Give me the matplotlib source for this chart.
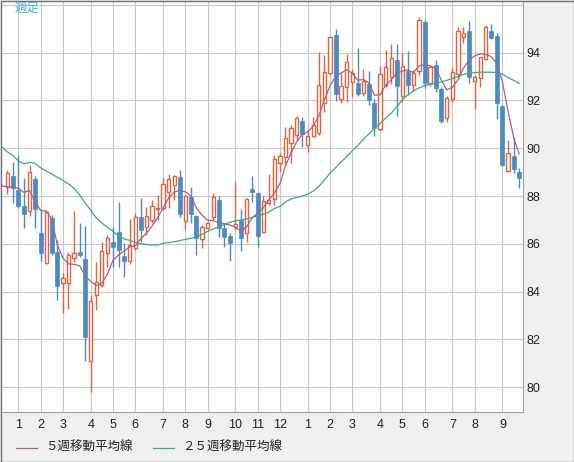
import numpy as np
import matplotlib
matplotlib.use("Agg")
from matplotlib import pyplot as plt
from matplotlib.lines import Line2D
from matplotlib.patches import Rectangle

# 週足ローソク足 (始値, 高値, 安値, 終値)
opens = [88.39, 88.84, 88.26, 87.59, 87.38, 88.70, 86.44, 85.21, 87.07, 85.67,
         84.35, 84.35, 85.40, 85.65, 85.37, 81.11, 83.86, 84.28, 85.61, 86.09,
         86.51, 85.47, 85.26, 85.82, 87.11, 86.72, 87.00, 87.46, 87.49, 88.18,
         88.46, 88.79, 86.97, 87.95, 87.17, 86.19, 86.65, 87.11, 87.84, 86.65,
         86.33, 86.69, 87.00, 86.44, 88.28, 88.14, 86.51, 87.70, 87.87, 89.37,
         89.65, 90.21, 90.56, 91.15, 90.14, 90.53, 90.63, 91.91, 93.14, 94.74,
         92.06, 92.58, 92.76, 92.74, 92.33, 92.69, 91.91, 90.80, 92.65, 93.00,
         93.69, 92.19, 93.23, 92.65, 93.25, 95.30, 92.74, 93.49, 92.48, 91.26,
         92.05, 93.11, 94.64, 94.92, 92.82, 92.93, 93.72, 94.91, 94.70, 91.77,
         89.06, 89.69, 89.00]
highs = [89.09, 89.41, 89.72, 88.74, 89.30, 88.84, 87.42, 87.42, 87.21, 86.16,
         84.77, 85.67, 87.38, 86.86, 86.75, 83.86, 85.23, 86.09, 86.37, 86.72,
         87.74, 86.02, 87.03, 87.28, 87.91, 87.56, 87.84, 88.05, 88.74, 88.91,
         88.88, 89.09, 88.05, 88.39, 87.20, 86.79, 86.96, 88.14, 88.00, 86.86,
         86.44, 88.60, 87.45, 87.91, 88.84, 88.16, 87.98, 88.91, 89.72, 89.79,
         90.90, 90.97, 91.35, 91.30, 90.77, 91.32, 94.02, 93.90, 94.70, 94.99,
         93.14, 93.93, 93.31, 94.18, 93.31, 93.23, 92.05, 93.44, 94.11, 94.35,
         94.35, 93.97, 94.08, 93.28, 95.48, 95.37, 93.49, 93.69, 92.58, 92.19,
         93.39, 95.09, 95.06, 95.33, 93.07, 93.83, 95.16, 95.20, 94.84, 91.81,
         90.35, 90.49, 89.16]
lows = [88.07, 87.72, 87.49, 86.68, 87.17, 86.68, 85.26, 85.17, 85.54, 83.65,
        83.12, 83.26, 85.23, 85.46, 81.10, 79.82, 83.23, 84.21, 85.05, 85.05,
        85.05, 84.60, 85.15, 85.74, 86.09, 86.37, 86.86, 87.00, 87.42, 87.49,
        87.84, 87.14, 86.61, 86.86, 85.54, 85.82, 86.55, 87.00, 86.30, 85.88,
        85.30, 86.58, 85.72, 86.09, 87.77, 85.88, 86.47, 87.63, 87.63, 89.02,
        89.30, 89.37, 90.35, 90.04, 89.86, 90.46, 90.56, 91.53, 93.07, 91.99,
        91.88, 91.95, 92.16, 92.19, 92.19, 91.81, 90.51, 90.74, 92.55, 92.69,
        91.35, 91.95, 92.23, 92.41, 93.07, 92.51, 92.61, 92.37, 91.05, 91.11,
        91.95, 92.93, 94.42, 92.74, 91.64, 92.58, 93.69, 94.56, 91.21, 89.25,
        89.02, 88.95, 88.33]
closes = [88.95, 88.35, 87.60, 87.24, 89.02, 87.45, 85.63, 87.32, 85.63, 84.25,
          84.59, 85.54, 85.61, 85.54, 82.08, 83.61, 84.42, 85.70, 86.23, 85.88,
          85.74, 85.30, 85.95, 87.14, 86.58, 87.17, 87.60, 87.50, 88.49, 88.70,
          88.84, 87.24, 87.98, 87.24, 86.23, 86.69, 86.86, 87.95, 86.65, 86.30,
          86.02, 86.82, 86.26, 87.87, 88.18, 86.34, 87.79, 87.84, 89.54, 89.68,
          90.42, 90.84, 91.26, 90.60, 90.51, 90.97, 92.65, 93.18, 94.64, 92.26,
          92.62, 93.62, 93.14, 92.27, 92.83, 92.02, 90.84, 93.10, 93.39, 93.77,
          92.61, 93.44, 92.65, 93.16, 95.37, 92.74, 93.41, 92.54, 91.15, 92.09,
          93.21, 94.92, 94.84, 93.00, 93.00, 93.83, 95.06, 94.63, 91.88, 89.30,
          89.79, 89.12, 88.74]

# 移動平均線 (先頭は画面左端の1本前の週)
ma5 = [88.42, 88.39, 88.35, 88.33, 88.15, 88.23, 87.75, 87.40, 87.36, 87.04,
       85.95, 85.41, 85.16, 85.14, 85.08, 84.66, 84.42, 84.26, 84.34, 84.74,
       85.31, 85.54, 85.70, 85.87, 85.91, 86.21, 86.44, 86.73, 87.08, 87.50,
       87.92, 88.16, 88.23, 88.18, 88.00, 87.50, 87.20, 86.99, 86.97, 86.89,
       86.83, 86.79, 86.69, 86.51, 86.71, 87.08, 87.29, 87.50, 87.84, 88.13,
       88.51, 89.26, 89.80, 90.26, 90.56, 90.69, 90.93, 91.35, 92.02, 92.61,
       93.00, 93.15, 93.28, 93.14, 92.84, 92.88, 92.73, 92.22, 92.23, 92.63,
       92.86, 93.14, 93.23, 93.28, 93.16, 93.44, 93.49, 93.45, 93.34, 92.86,
       92.44, 92.55, 92.86, 93.36, 93.69, 93.86, 93.95, 93.93, 93.83, 93.55,
       92.77, 91.56, 90.47, 89.76]
ma25 = [90.05, 89.85, 89.70, 89.47, 89.34, 89.41, 89.36, 89.18, 89.05, 88.92,
        88.78, 88.65, 88.51, 88.32, 88.05, 87.71, 87.40, 87.08, 86.87, 86.69,
        86.52, 86.33, 86.21, 86.14, 86.06, 86.00, 85.97, 85.95, 85.95, 86.02,
        86.05, 86.09, 86.13, 86.19, 86.23, 86.29, 86.39, 86.52, 86.62, 86.71,
        86.81, 86.90, 86.96, 87.00, 87.04, 87.10, 87.17, 87.23, 87.33, 87.48,
        87.56, 87.75, 87.88, 87.94, 88.00, 88.07, 88.21, 88.40, 88.67, 88.95,
        89.18, 89.43, 89.64, 89.89, 90.12, 90.37, 90.60, 90.83, 91.04, 91.25,
        91.46, 91.73, 92.02, 92.23, 92.40, 92.52, 92.62, 92.67, 92.72, 92.77,
        92.84, 92.92, 93.00, 93.09, 93.14, 93.16, 93.18, 93.18, 93.18, 93.16,
        93.10, 92.96, 92.84, 92.71]

# 月の最初の週の位置と月
month_idx = [2, 6, 10, 15, 19, 23, 28, 32, 36, 41, 45, 49,
             54, 58, 62, 67, 71, 75, 80, 84, 89]
month_lbl = ['1', '2', '3', '4', '5', '6', '7', '8', '9', '10', '11', '12',
             '1', '2', '3', '4', '5', '6', '7', '8', '9']

up_col = '#e0643e'
down_col = '#4a8bc3'
ma5_col = '#b45c88'
ma25_col = '#2bb57b'
grid_col = '#c8c8c8'

W, H = 574, 462
fig = plt.figure(figsize=(W / 100, H / 100), dpi=100, facecolor='#f0f0f0')
ax = fig.add_axes([1 / W, (H - 412.3) / H, 522.3 / W, 411.3 / H])
ax.set_facecolor('white')

x = np.arange(len(opens))
o = np.array(opens)
c = np.array(closes)
up = c >= o

# ヒゲ
ax.vlines(x[up], np.array(lows)[up], np.array(highs)[up], color=up_col, lw=1.0, zorder=3)
ax.vlines(x[~up], np.array(lows)[~up], np.array(highs)[~up], color=down_col, lw=1.0, zorder=3)
# 実体
ax.bar(x[up], (c - o)[up], bottom=o[up], width=0.58, facecolor='white',
       edgecolor=up_col, lw=1.0, zorder=4)
ax.bar(x[~up], (o - c)[~up], bottom=c[~up], width=0.72, facecolor=down_col,
       edgecolor=down_col, lw=0.5, zorder=4)

xm = np.arange(-1, len(opens))
ax.plot(xm, ma25, color=ma25_col, lw=0.9, zorder=5)
ax.plot(xm, ma5, color=ma5_col, lw=0.9, zorder=5)

ax.set_xlim(-1.13, 92.75)
ax.set_ylim(78.95, 96.16)

ax.set_xticks(month_idx)
ax.set_xticklabels(month_lbl)
ax.set_yticks(np.arange(80, 97, 2))
ax.set_yticklabels([str(v) for v in range(80, 95, 2)] + [''])
ax.yaxis.tick_right()
ax.tick_params(axis='both', length=0, labelsize=9, colors='#202020')
ax.tick_params(axis='x', pad=5)
ax.tick_params(axis='y', pad=2)
for lab in ax.get_xticklabels() + ax.get_yticklabels():
    lab.set_family(['Liberation Sans', 'DejaVu Sans'])

ax.grid(True, color=grid_col, lw=0.8, zorder=0)
ax.set_axisbelow(True)
for s in ['left', 'top']:
    ax.spines[s].set_visible(False)
for s in ['right', 'bottom']:
    ax.spines[s].set_color('#a0a0a0')
    ax.spines[s].set_linewidth(0.8)

jp = ['Noto Sans CJK JP', 'DejaVu Sans']
fig.text(15 / W, 1 - 2 / H, '週足', color='#3cb4e6', fontsize=9,
         family=jp, va='top', ha='left')

# 凡例
ly = 1 - 447.5 / H
fig.add_artist(Line2D([16 / W, 37 / W], [ly, ly], color=ma5_col, lw=0.9))
fig.text(45 / W, ly, '５週移動平均線', fontsize=9, family=jp, va='center',
         ha='left', color='#202020')
fig.add_artist(Line2D([153 / W, 174 / W], [ly, ly], color=ma25_col, lw=0.9))
fig.text(182 / W, ly, '２５週移動平均線', fontsize=9, family=jp, va='center',
         ha='left', color='#202020')

# 外枠
fig.add_artist(Rectangle((0.5 / W, 0.5 / H), (W - 1) / W, (H - 1) / H,
                         transform=fig.transFigure, fill=False,
                         edgecolor='#707070', lw=1.0))

fig.savefig('out.png', dpi=100, facecolor=fig.get_facecolor())
